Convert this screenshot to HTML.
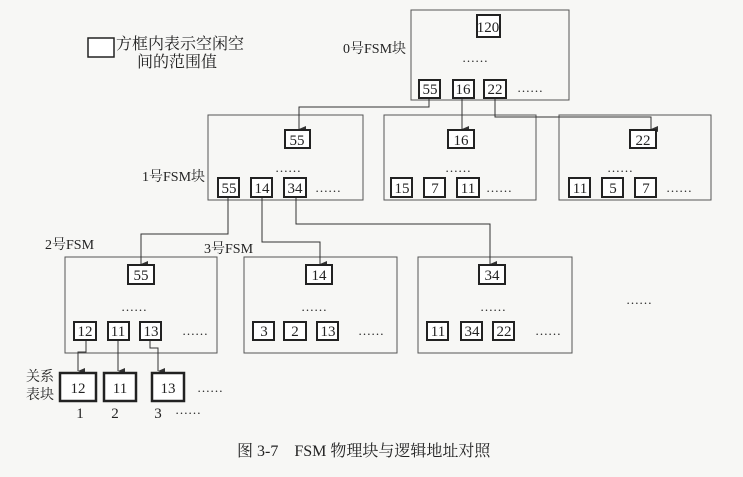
<!DOCTYPE html>
<html><head><meta charset="utf-8"><style>
html,body{margin:0;padding:0;background:#f7f7f5;}
svg{display:block;}
text{font-family:"Liberation Serif","Noto Serif CJK SC",serif;fill:#222;}
.n{font-size:15px;text-anchor:middle;}
</style></head><body>
<svg width="743" height="477" viewBox="0 0 743 477" xmlns="http://www.w3.org/2000/svg">
<defs><marker id="a" markerWidth="8" markerHeight="8" refX="4" refY="7" orient="auto" markerUnits="userSpaceOnUse"><path d="M1,0 L4,7 L7,0 Z" fill="#333"/></marker></defs>
<g fill="none" stroke="#555" stroke-width="1">
<rect x="411" y="10" width="158" height="90"/>
<rect x="208" y="115" width="155" height="85"/>
<rect x="384" y="115" width="152" height="85"/>
<rect x="559" y="115" width="152" height="85"/>
<rect x="65" y="257" width="152" height="96"/>
<rect x="244" y="257" width="153" height="96"/>
<rect x="418" y="257" width="154" height="96"/>
</g>
<g fill="none" stroke="#333" stroke-width="1">
<polyline points="429,97 429,107 299,107 299,129" marker-end="url(#a)"/>
<polyline points="462,97 462,129" marker-end="url(#a)"/>
<polyline points="495,97 495,117 651,117 651,129" marker-end="url(#a)"/>
<polyline points="228,197 228,234 141,234 141,264" marker-end="url(#a)"/>
<polyline points="262,197 262,242 320,242 320,264" marker-end="url(#a)"/>
<polyline points="296,197 296,224 490,224 490,264" marker-end="url(#a)"/>
<polyline points="86,340 86,352 78,352 78,371" marker-end="url(#a)"/>
<polyline points="118,340 118,371" marker-end="url(#a)"/>
<polyline points="150,340 150,348 158,348 158,371" marker-end="url(#a)"/>
</g>
<g fill="#fff" stroke="#222" stroke-width="2">
<rect x="88" y="38" width="26" height="19" stroke-width="1.5"/>
<rect x="477" y="15" width="23" height="22"/>
<rect x="419" y="80" width="21" height="18"/><rect x="453" y="80" width="21" height="18"/><rect x="484" y="80" width="22" height="18"/>
<rect x="285" y="130" width="25" height="18"/>
<rect x="218" y="178" width="21" height="19"/><rect x="251" y="178" width="21" height="19"/><rect x="284" y="178" width="22" height="19"/>
<rect x="448" y="130" width="26" height="18"/>
<rect x="391" y="178" width="21" height="19"/><rect x="424" y="178" width="21" height="19"/><rect x="457" y="178" width="22" height="19"/>
<rect x="630" y="130" width="26" height="18"/>
<rect x="569" y="178" width="21" height="19"/><rect x="602" y="178" width="21" height="19"/><rect x="635" y="178" width="21" height="19"/>
<rect x="128" y="265" width="26" height="19"/>
<rect x="306" y="265" width="26" height="19"/>
<rect x="479" y="265" width="26" height="19"/>
<rect x="74" y="322" width="22" height="18"/><rect x="108" y="322" width="21" height="18"/><rect x="140" y="322" width="21" height="18"/>
<rect x="253" y="322" width="21" height="18"/><rect x="284" y="322" width="22" height="18"/><rect x="317" y="322" width="21" height="18"/>
<rect x="427" y="322" width="21" height="18"/><rect x="461" y="322" width="21" height="18"/><rect x="493" y="322" width="21" height="18"/>
<rect x="60" y="373" width="36" height="28" stroke-width="2.5"/><rect x="104" y="373" width="32" height="28" stroke-width="2.5"/><rect x="152" y="373" width="32" height="28" stroke-width="2.5"/>
</g>
<g class="n">
<text x="488" y="32">120</text>
<text x="430" y="94">55</text><text x="463" y="94">16</text><text x="495" y="94">22</text>
<text x="297" y="145">55</text>
<text x="229" y="193">55</text><text x="262" y="193">14</text><text x="295" y="193">34</text>
<text x="461" y="145">16</text>
<text x="402" y="193">15</text><text x="435" y="193">7</text><text x="468" y="193">11</text>
<text x="643" y="145">22</text>
<text x="580" y="193">11</text><text x="613" y="193">5</text><text x="646" y="193">7</text>
<text x="141" y="280">55</text><text x="319" y="280">14</text><text x="492" y="280">34</text>
<text x="85" y="336">12</text><text x="118" y="336">11</text><text x="151" y="336">13</text>
<text x="264" y="336">3</text><text x="295" y="336">2</text><text x="328" y="336">13</text>
<text x="438" y="336">11</text><text x="472" y="336">34</text><text x="504" y="336">22</text>
<text x="78" y="393">12</text><text x="120" y="393">11</text><text x="168" y="393">13</text>
<text x="80" y="418">1</text><text x="115" y="418">2</text><text x="158" y="418">3</text>
</g>
<g style="font-size:13px">
<text x="462" y="62">……</text>
<text x="517" y="92">……</text>
<text x="275" y="172">……</text><text x="315" y="192">……</text>
<text x="445" y="172">……</text><text x="486" y="192">……</text>
<text x="607" y="172">……</text><text x="666" y="192">……</text>
<text x="121" y="311">……</text><text x="301" y="311">……</text><text x="480" y="311">……</text>
<text x="626" y="304">……</text>
<text x="182" y="335">……</text><text x="358" y="335">……</text><text x="535" y="335">……</text>
<text x="197" y="392">……</text><text x="175" y="414">……</text>
</g>
<g style="font-size:14px">
<text x="116" y="49" style="font-size:16px">方框内表示空闲空</text>
<text x="137" y="67" style="font-size:16px">间的范围值</text>
<text x="343" y="53">0号FSM块</text>
<text x="142" y="181">1号FSM块</text>
<text x="45" y="249">2号FSM</text>
<text x="204" y="253">3号FSM</text>
<text x="26" y="381">关系</text>
<text x="26" y="399">表块</text>
<text x="237" y="456" style="font-size:16px">图 3-7　FSM 物理块与逻辑地址对照</text>
</g>
</svg>
</body></html>
